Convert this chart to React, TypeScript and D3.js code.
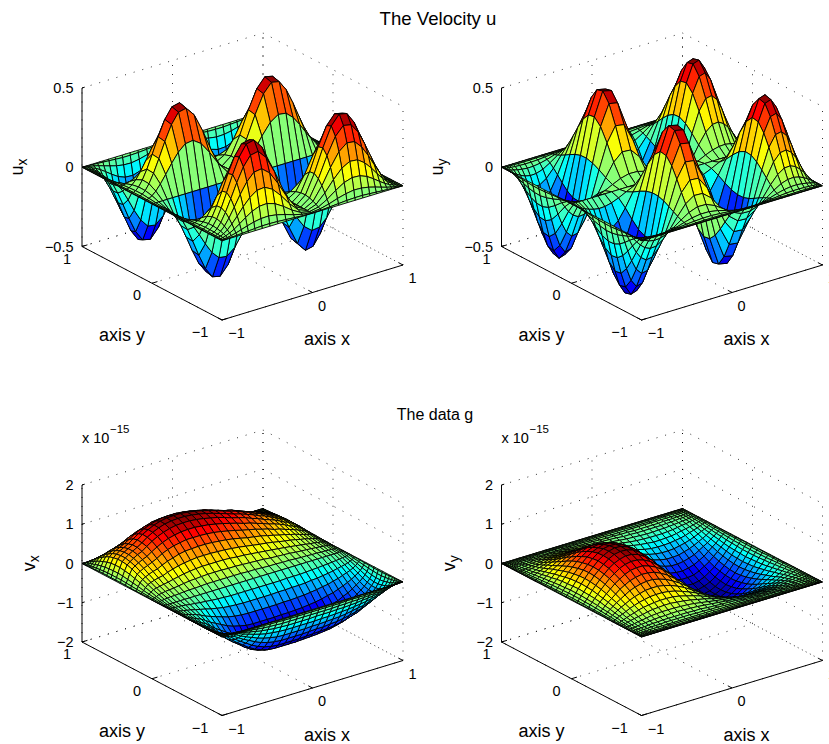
import React from 'react';
import * as d3 from 'd3';

// mesh nodes (non uniform, same along x and y). the velocity plots use a coarser mesh
const velocityNodes = [-1, -0.995, -0.981, -0.957, -0.924, -0.882, -0.832, -0.773, -0.707, -0.634, -0.556, -0.471, -0.383, -0.29, -0.195, -0.098, 0, 0.098, 0.195, 0.29, 0.383, 0.471, 0.556, 0.634, 0.707, 0.773, 0.832, 0.882, 0.924, 0.957, 0.981, 0.995, 1];
const dataNodes = [-1, -0.997, -0.988, -0.972, -0.951, -0.924, -0.891, -0.853, -0.809, -0.76, -0.707, -0.649, -0.588, -0.522, -0.454, -0.383, -0.309, -0.233, -0.156, -0.078, 0, 0.078, 0.156, 0.233, 0.309, 0.383, 0.454, 0.522, 0.588, 0.649, 0.707, 0.76, 0.809, 0.853, 0.891, 0.924, 0.951, 0.972, 0.988, 0.997, 1];

const edgeRow = [0, 0, 0, 0, 0, 0, 0, 0, 0, 0, 0, 0, 0, 0, 0, 0, 0, 0, 0, 0, 0, 0, 0, 0, 0, 0, 0, 0, 0, 0, 0, 0, 0];
const dataEdgeRow = [0, 0, 0, 0, 0, 0, 0, 0, 0, 0, 0, 0, 0, 0, 0, 0, 0, 0, 0, 0, 0, 0, 0, 0, 0, 0, 0, 0, 0, 0, 0, 0, 0, 0, 0, 0, 0, 0, 0, 0, 0];

// u_x, thousandths. rows go y = -1..1, columns x = -1..1
const uxGrid = [
  edgeRow,
  [0,0,0,0,1,2,4,6,9,12,15,15,13,9,5,1,0,1,5,9,13,15,15,12,9,6,4,2,1,0,0,0,0],
  [0,0,0,1,3,8,15,26,38,50,58,60,52,38,20,6,0,6,20,38,52,60,58,50,38,26,15,8,3,1,0,0,0],
  [0,0,0,2,8,18,34,57,85,112,130,133,117,84,44,12,0,12,44,84,117,133,130,112,85,57,34,18,8,2,0,0,0],
  [0,0,1,4,13,30,59,98,146,191,223,228,200,144,76,21,0,21,76,144,200,228,223,191,146,98,59,30,13,4,1,0,0],
  [0,0,1,6,19,44,86,145,214,281,328,335,294,211,112,31,0,31,112,211,294,335,328,281,214,145,86,44,19,6,1,0,0],
  [0,0,2,8,24,57,111,187,276,363,423,433,379,273,144,40,0,40,144,273,379,433,423,363,276,187,111,57,24,8,2,0,0],
  [0,0,2,9,28,65,126,212,313,412,480,491,431,309,164,46,0,46,164,309,431,491,480,412,313,212,126,65,28,9,2,0,0],
  [0,0,2,9,27,63,123,206,305,401,467,478,419,301,160,44,0,44,160,301,419,478,467,401,305,206,123,63,27,9,2,0,0],
  [0,0,1,7,21,49,95,160,237,311,363,371,325,234,124,34,0,34,124,234,325,371,363,311,237,160,95,49,21,7,1,0,0],
  [0,0,1,3,10,22,44,73,108,142,166,170,149,107,57,16,0,16,57,107,149,170,166,142,108,73,44,22,10,3,1,0,0],
  [0,0,0,-2,-5,-12,-23,-38,-56,-74,-86,-88,-77,-56,-29,-8,0,-8,-29,-56,-77,-88,-86,-74,-56,-38,-23,-12,-5,-2,0,0,0],
  [0,0,-1,-6,-19,-44,-86,-144,-213,-280,-326,-333,-292,-210,-111,-31,0,-31,-111,-210,-292,-333,-326,-280,-213,-144,-86,-44,-19,-6,-1,0,0],
  [0,0,-2,-9,-27,-64,-123,-207,-306,-403,-469,-480,-421,-303,-160,-45,0,-45,-160,-303,-421,-480,-469,-403,-306,-207,-123,-64,-27,-9,-2,0,0],
  [0,0,-2,-9,-26,-62,-120,-202,-298,-392,-457,-467,-410,-294,-156,-43,0,-43,-156,-294,-410,-467,-457,-392,-298,-202,-120,-62,-26,-9,-2,0,0],
  [0,0,-1,-5,-16,-38,-74,-124,-183,-240,-280,-287,-252,-181,-96,-27,0,-27,-96,-181,-252,-287,-280,-240,-183,-124,-74,-38,-16,-5,-1,0,0],
  edgeRow,
  [0,0,1,5,16,38,74,124,183,240,280,287,252,181,96,27,0,27,96,181,252,287,280,240,183,124,74,38,16,5,1,0,0],
  [0,0,2,9,26,62,120,202,298,392,457,467,410,294,156,43,0,43,156,294,410,467,457,392,298,202,120,62,26,9,2,0,0],
  [0,0,2,9,27,64,123,207,306,403,469,480,421,303,160,45,0,45,160,303,421,480,469,403,306,207,123,64,27,9,2,0,0],
  [0,0,1,6,19,44,86,144,213,280,326,333,292,210,111,31,0,31,111,210,292,333,326,280,213,144,86,44,19,6,1,0,0],
  [0,0,0,2,5,12,23,38,56,74,86,88,77,56,29,8,0,8,29,56,77,88,86,74,56,38,23,12,5,2,0,0,0],
  [0,0,-1,-3,-10,-22,-44,-73,-108,-142,-166,-170,-149,-107,-57,-16,0,-16,-57,-107,-149,-170,-166,-142,-108,-73,-44,-22,-10,-3,-1,0,0],
  [0,0,-1,-7,-21,-49,-95,-160,-237,-311,-363,-371,-325,-234,-124,-34,0,-34,-124,-234,-325,-371,-363,-311,-237,-160,-95,-49,-21,-7,-1,0,0],
  [0,0,-2,-9,-27,-63,-123,-206,-305,-401,-467,-478,-419,-301,-160,-44,0,-44,-160,-301,-419,-478,-467,-401,-305,-206,-123,-63,-27,-9,-2,0,0],
  [0,0,-2,-9,-28,-65,-126,-212,-313,-412,-480,-491,-431,-309,-164,-46,0,-46,-164,-309,-431,-491,-480,-412,-313,-212,-126,-65,-28,-9,-2,0,0],
  [0,0,-2,-8,-24,-57,-111,-187,-276,-363,-423,-433,-379,-273,-144,-40,0,-40,-144,-273,-379,-433,-423,-363,-276,-187,-111,-57,-24,-8,-2,0,0],
  [0,0,-1,-6,-19,-44,-86,-145,-214,-281,-328,-335,-294,-211,-112,-31,0,-31,-112,-211,-294,-335,-328,-281,-214,-145,-86,-44,-19,-6,-1,0,0],
  [0,0,-1,-4,-13,-30,-59,-98,-146,-191,-223,-228,-200,-144,-76,-21,0,-21,-76,-144,-200,-228,-223,-191,-146,-98,-59,-30,-13,-4,-1,0,0],
  [0,0,0,-2,-8,-18,-34,-57,-85,-112,-130,-133,-117,-84,-44,-12,0,-12,-44,-84,-117,-133,-130,-112,-85,-57,-34,-18,-8,-2,0,0,0],
  [0,0,0,-1,-3,-8,-15,-26,-38,-50,-58,-60,-52,-38,-20,-6,0,-6,-20,-38,-52,-60,-58,-50,-38,-26,-15,-8,-3,-1,0,0,0],
  [0,0,0,0,-1,-2,-4,-6,-9,-12,-15,-15,-13,-9,-5,-1,0,-1,-5,-9,-13,-15,-15,-12,-9,-6,-4,-2,-1,0,0,0,0],
  edgeRow,
];

// u_y, thousandths
const uyGrid = [
  edgeRow,
  edgeRow,
  [0,0,0,0,-1,-1,-2,-2,-2,-1,-1,0,1,2,2,1,0,-1,-2,-2,-1,0,1,1,2,2,2,1,1,0,0,0,0],
  [0,0,-1,-2,-4,-6,-8,-9,-9,-7,-3,2,6,9,9,5,0,-5,-9,-9,-6,-2,3,7,9,9,8,6,4,2,1,0,0],
  [0,-1,-3,-8,-13,-19,-24,-28,-27,-21,-10,5,19,27,26,16,0,-16,-26,-27,-19,-5,10,21,27,28,24,19,13,8,3,1,0],
  [0,-2,-8,-18,-30,-44,-57,-65,-63,-49,-22,12,44,64,62,38,0,-38,-62,-64,-44,-12,22,49,63,65,57,44,30,18,8,2,0],
  [0,-4,-15,-34,-59,-86,-111,-126,-123,-95,-44,23,86,123,120,74,0,-74,-120,-123,-86,-23,44,95,123,126,111,86,59,34,15,4,0],
  [0,-6,-26,-57,-98,-145,-187,-212,-206,-160,-73,38,144,207,202,124,0,-124,-202,-207,-144,-38,73,160,206,212,187,145,98,57,26,6,0],
  [0,-9,-38,-85,-146,-214,-276,-313,-305,-237,-108,56,213,306,298,183,0,-183,-298,-306,-213,-56,108,237,305,313,276,214,146,85,38,9,0],
  [0,-12,-50,-112,-191,-281,-363,-412,-401,-311,-142,74,280,403,392,240,0,-240,-392,-403,-280,-74,142,311,401,412,363,281,191,112,50,12,0],
  [0,-15,-58,-130,-223,-328,-423,-480,-467,-363,-166,86,326,469,457,280,0,-280,-457,-469,-326,-86,166,363,467,480,423,328,223,130,58,15,0],
  [0,-15,-60,-133,-228,-335,-433,-491,-478,-371,-170,88,333,480,467,287,0,-287,-467,-480,-333,-88,170,371,478,491,433,335,228,133,60,15,0],
  [0,-13,-52,-117,-200,-294,-379,-431,-419,-325,-149,77,292,421,410,252,0,-252,-410,-421,-292,-77,149,325,419,431,379,294,200,117,52,13,0],
  [0,-9,-38,-84,-144,-211,-273,-309,-301,-234,-107,56,210,303,294,181,0,-181,-294,-303,-210,-56,107,234,301,309,273,211,144,84,38,9,0],
  [0,-5,-20,-44,-76,-112,-144,-164,-160,-124,-57,29,111,160,156,96,0,-96,-156,-160,-111,-29,57,124,160,164,144,112,76,44,20,5,0],
  [0,-1,-6,-12,-21,-31,-40,-46,-44,-34,-16,8,31,45,43,27,0,-27,-43,-45,-31,-8,16,34,44,46,40,31,21,12,6,1,0],
  edgeRow,
  [0,-1,-6,-12,-21,-31,-40,-46,-44,-34,-16,8,31,45,43,27,0,-27,-43,-45,-31,-8,16,34,44,46,40,31,21,12,6,1,0],
  [0,-5,-20,-44,-76,-112,-144,-164,-160,-124,-57,29,111,160,156,96,0,-96,-156,-160,-111,-29,57,124,160,164,144,112,76,44,20,5,0],
  [0,-9,-38,-84,-144,-211,-273,-309,-301,-234,-107,56,210,303,294,181,0,-181,-294,-303,-210,-56,107,234,301,309,273,211,144,84,38,9,0],
  [0,-13,-52,-117,-200,-294,-379,-431,-419,-325,-149,77,292,421,410,252,0,-252,-410,-421,-292,-77,149,325,419,431,379,294,200,117,52,13,0],
  [0,-15,-60,-133,-228,-335,-433,-491,-478,-371,-170,88,333,480,467,287,0,-287,-467,-480,-333,-88,170,371,478,491,433,335,228,133,60,15,0],
  [0,-15,-58,-130,-223,-328,-423,-480,-467,-363,-166,86,326,469,457,280,0,-280,-457,-469,-326,-86,166,363,467,480,423,328,223,130,58,15,0],
  [0,-12,-50,-112,-191,-281,-363,-412,-401,-311,-142,74,280,403,392,240,0,-240,-392,-403,-280,-74,142,311,401,412,363,281,191,112,50,12,0],
  [0,-9,-38,-85,-146,-214,-276,-313,-305,-237,-108,56,213,306,298,183,0,-183,-298,-306,-213,-56,108,237,305,313,276,214,146,85,38,9,0],
  [0,-6,-26,-57,-98,-145,-187,-212,-206,-160,-73,38,144,207,202,124,0,-124,-202,-207,-144,-38,73,160,206,212,187,145,98,57,26,6,0],
  [0,-4,-15,-34,-59,-86,-111,-126,-123,-95,-44,23,86,123,120,74,0,-74,-120,-123,-86,-23,44,95,123,126,111,86,59,34,15,4,0],
  [0,-2,-8,-18,-30,-44,-57,-65,-63,-49,-22,12,44,64,62,38,0,-38,-62,-64,-44,-12,22,49,63,65,57,44,30,18,8,2,0],
  [0,-1,-3,-8,-13,-19,-24,-28,-27,-21,-10,5,19,27,26,16,0,-16,-26,-27,-19,-5,10,21,27,28,24,19,13,8,3,1,0],
  [0,0,-1,-2,-4,-6,-8,-9,-9,-7,-3,2,6,9,9,5,0,-5,-9,-9,-6,-2,3,7,9,9,8,6,4,2,1,0,0],
  [0,0,0,0,-1,-1,-2,-2,-2,-1,-1,0,1,2,2,1,0,-1,-2,-2,-1,0,1,1,2,2,2,1,1,0,0,0,0],
  edgeRow,
  edgeRow,
];

// v_x, hundredths of 1e-15
const vxGrid = [
  dataEdgeRow,
  [0,0,0,0,0,0,0,0,0,-1,-1,-1,-1,-1,-1,-2,-2,-2,-2,-2,-2,-2,-2,-2,-2,-2,-2,-1,-1,-1,-1,-1,-1,-1,-1,-1,0,0,0,0,0],
  [0,0,0,0,-1,-1,-1,-1,-2,-3,-3,-4,-5,-5,-6,-6,-7,-7,-7,-7,-7,-7,-7,-7,-7,-6,-6,-6,-6,-5,-5,-4,-4,-3,-3,-2,-2,-1,-1,0,0],
  [0,0,0,-1,-1,-2,-3,-3,-4,-6,-8,-9,-11,-13,-14,-15,-16,-16,-16,-16,-16,-16,-16,-16,-15,-15,-14,-14,-13,-12,-11,-10,-9,-8,-6,-5,-4,-3,-2,0,0],
  [0,0,-1,-1,-2,-3,-4,-6,-7,-10,-13,-16,-19,-22,-24,-26,-27,-28,-28,-28,-28,-27,-27,-27,-26,-26,-25,-24,-22,-21,-19,-17,-15,-13,-11,-9,-7,-5,-3,-1,0],
  [0,0,-1,-2,-3,-5,-7,-9,-11,-15,-20,-24,-29,-33,-37,-39,-41,-42,-42,-42,-42,-42,-41,-41,-40,-39,-38,-36,-34,-32,-29,-26,-23,-20,-17,-14,-11,-8,-4,-1,0],
  [0,0,-1,-3,-5,-7,-9,-13,-16,-21,-28,-34,-40,-46,-51,-55,-58,-59,-59,-59,-59,-58,-58,-57,-56,-55,-53,-50,-47,-45,-40,-37,-32,-28,-24,-19,-15,-10,-6,-2,0],
  [0,0,-1,-3,-6,-9,-12,-16,-20,-28,-36,-44,-51,-59,-66,-71,-74,-76,-76,-76,-76,-75,-74,-74,-72,-71,-68,-65,-61,-57,-52,-47,-41,-36,-30,-25,-20,-14,-7,-2,0],
  [0,0,-2,-4,-7,-11,-15,-20,-25,-34,-44,-53,-62,-72,-80,-86,-90,-92,-92,-92,-92,-91,-90,-89,-88,-86,-83,-79,-74,-70,-63,-57,-50,-43,-37,-30,-24,-16,-9,-2,0],
  [0,0,-2,-5,-8,-12,-17,-22,-28,-38,-50,-61,-71,-82,-91,-98,-103,-105,-105,-105,-105,-104,-103,-102,-100,-98,-94,-90,-84,-79,-72,-65,-57,-49,-42,-35,-27,-19,-10,-3,0],
  [0,0,-2,-5,-9,-13,-18,-24,-30,-41,-54,-65,-75,-87,-97,-104,-109,-111,-111,-111,-111,-110,-109,-108,-106,-104,-100,-95,-89,-84,-76,-70,-61,-53,-45,-37,-29,-20,-11,-3,0],
  [0,0,-2,-5,-9,-13,-18,-24,-30,-41,-54,-65,-75,-87,-97,-104,-109,-111,-111,-111,-111,-110,-109,-108,-106,-104,-100,-95,-89,-84,-76,-70,-61,-53,-45,-37,-29,-20,-11,-3,0],
  [0,0,-2,-5,-8,-12,-17,-22,-28,-38,-50,-60,-70,-81,-91,-97,-102,-104,-104,-104,-104,-103,-102,-101,-99,-97,-93,-89,-83,-79,-71,-65,-56,-49,-42,-34,-27,-19,-10,-3,0],
  [0,0,-2,-4,-7,-10,-14,-19,-24,-33,-43,-52,-61,-70,-78,-84,-88,-89,-89,-89,-89,-88,-88,-87,-85,-84,-80,-76,-72,-68,-61,-56,-49,-42,-36,-29,-23,-16,-9,-2,0],
  [0,0,-1,-3,-6,-8,-11,-15,-19,-26,-34,-41,-48,-56,-62,-66,-70,-71,-71,-71,-71,-70,-70,-69,-68,-66,-64,-61,-57,-54,-49,-44,-39,-34,-28,-23,-18,-13,-7,-2,0],
  [0,0,-1,-2,-4,-6,-8,-11,-14,-19,-25,-30,-35,-40,-45,-48,-50,-51,-51,-51,-51,-51,-50,-50,-49,-48,-46,-44,-41,-39,-35,-32,-28,-24,-21,-17,-13,-9,-5,-1,0],
  [0,0,-1,-1,-3,-4,-5,-7,-9,-12,-15,-18,-22,-25,-28,-30,-31,-32,-32,-32,-32,-32,-31,-31,-30,-30,-29,-27,-26,-24,-22,-20,-17,-15,-13,-11,-8,-6,-3,-1,0],
  [0,0,0,-1,-1,-2,-2,-3,-4,-6,-7,-9,-10,-12,-13,-14,-15,-15,-15,-15,-15,-15,-15,-15,-14,-14,-14,-13,-12,-11,-10,-9,-8,-7,-6,-5,-4,-3,-1,0,0],
  dataEdgeRow,
  [0,0,1,2,3,4,5,6,6,7,8,9,9,10,11,11,11,11,11,11,10,10,9,8,8,7,7,6,5,5,4,4,3,3,2,2,1,1,1,0,0],
  [0,0,2,4,6,9,10,12,13,14,16,18,20,21,22,23,23,23,22,22,21,20,19,18,16,15,14,13,11,10,9,8,7,6,5,4,3,2,1,0,0],
  [0,1,3,6,10,14,16,18,20,22,25,28,31,33,35,36,36,36,36,35,33,32,30,28,26,24,22,20,18,16,14,12,10,9,7,6,4,3,2,1,0],
  [0,1,4,8,14,20,23,26,29,31,36,40,44,47,49,51,51,51,50,49,47,45,42,39,36,34,31,28,25,23,20,17,15,12,10,8,6,4,3,1,0],
  [0,1,5,11,19,26,30,34,38,41,47,53,57,62,65,66,67,67,66,64,62,59,55,51,48,45,41,37,33,30,26,23,19,16,13,11,8,5,4,1,0],
  [0,1,6,13,23,32,37,42,46,51,57,65,71,76,79,82,82,82,81,79,76,72,68,63,59,55,50,46,40,37,32,28,24,20,16,13,10,7,4,1,0],
  [0,2,7,15,27,38,44,49,54,59,67,75,82,88,92,95,96,96,94,92,88,84,79,74,68,64,58,53,47,43,38,33,27,23,19,15,11,8,5,2,0],
  [0,2,8,17,29,42,48,54,60,65,74,83,91,97,102,105,106,106,104,101,97,93,87,81,76,71,64,59,52,47,42,36,30,26,21,17,12,9,6,2,0],
  [0,2,8,18,31,44,51,57,63,69,77,87,95,102,107,110,111,111,109,106,102,97,91,85,79,74,68,62,55,50,44,38,32,27,22,18,13,9,6,2,0],
  [0,2,8,18,31,44,51,57,63,69,78,88,96,103,108,111,112,112,110,107,103,98,92,86,80,75,68,62,55,50,44,38,32,27,22,18,13,9,6,2,0],
  [0,2,8,17,30,42,49,55,60,66,75,84,92,98,103,106,107,107,105,102,98,94,88,82,76,72,65,59,53,48,42,36,31,26,21,17,12,9,6,2,0],
  [0,2,7,16,27,39,45,50,55,61,68,77,84,90,95,97,98,98,96,94,90,86,81,75,70,66,60,54,48,44,39,33,28,24,19,16,11,8,5,2,0],
  [0,2,6,14,24,34,39,44,49,53,60,68,74,79,83,86,86,86,85,82,79,76,71,66,62,58,52,48,42,39,34,29,25,21,17,14,10,7,5,2,0],
  [0,1,5,12,20,28,33,37,41,45,50,57,62,67,70,72,72,72,71,69,67,63,60,56,52,48,44,40,36,32,28,25,21,17,14,12,8,6,4,1,0],
  [0,1,4,9,16,23,26,29,33,36,40,45,50,53,56,57,58,58,57,55,53,51,48,44,41,39,35,32,28,26,23,20,17,14,11,9,7,5,3,1,0],
  [0,1,3,7,12,17,20,22,25,27,31,35,38,40,42,44,44,44,43,42,40,38,36,34,31,29,27,24,22,20,17,15,13,11,9,7,5,4,2,1,0],
  [0,1,2,5,9,12,14,16,17,19,22,24,26,28,30,31,31,31,30,30,28,27,25,24,22,21,19,17,15,14,12,10,9,7,6,5,4,2,2,1,0],
  [0,0,1,3,6,8,9,10,11,12,14,16,17,19,20,20,20,20,20,19,19,18,17,16,14,14,12,11,10,9,8,7,6,5,4,3,2,2,1,0,0],
  [0,0,1,2,3,5,5,6,7,7,8,9,10,11,11,12,12,12,11,11,11,10,10,9,8,8,7,6,6,5,5,4,3,3,2,2,1,1,1,0,0],
  [0,0,0,1,1,2,2,3,3,3,4,4,4,5,5,5,5,5,5,5,5,4,4,4,4,3,3,3,3,2,2,2,1,1,1,1,1,0,0,0,0],
  [0,0,0,0,0,0,1,1,1,1,1,1,1,1,1,1,1,1,1,1,1,1,1,1,1,1,1,1,1,1,0,0,0,0,0,0,0,0,0,0,0],
  dataEdgeRow,
];

// v_y, hundredths of 1e-15
const vyGrid = [
  dataEdgeRow,
  dataEdgeRow,
  dataEdgeRow,
  dataEdgeRow,
  [0,0,0,0,0,0,0,0,0,0,0,1,1,1,1,1,0,0,0,0,0,0,0,0,0,-1,-1,-1,-1,-1,0,0,0,0,0,0,0,0,0,0,0],
  [0,0,0,0,0,0,0,1,1,1,1,1,1,1,1,1,1,1,1,0,0,0,-1,-1,-1,-1,-1,-1,-1,-1,-1,-1,-1,-1,0,0,0,0,0,0,0],
  [0,0,0,0,0,1,1,1,2,2,2,3,3,3,3,3,2,2,1,1,0,-1,-1,-2,-2,-3,-3,-3,-3,-3,-2,-2,-2,-1,-1,-1,0,0,0,0,0],
  [0,0,0,0,1,1,2,2,3,4,4,5,5,5,5,5,4,4,2,1,0,-1,-2,-4,-4,-5,-5,-5,-5,-5,-4,-4,-3,-2,-2,-1,-1,0,0,0,0],
  [0,0,0,1,1,2,3,4,5,6,7,8,8,9,9,8,7,6,4,2,0,-2,-4,-6,-7,-8,-9,-9,-8,-8,-7,-6,-5,-4,-3,-2,-1,-1,0,0,0],
  [0,0,1,1,2,3,4,6,7,9,11,12,13,13,13,12,11,9,6,3,0,-3,-6,-9,-11,-12,-13,-13,-13,-12,-11,-9,-7,-6,-4,-3,-2,-1,-1,0,0],
  [0,0,1,2,3,5,7,9,11,13,16,18,19,20,20,18,16,13,9,5,0,-5,-9,-13,-16,-18,-20,-20,-19,-18,-16,-13,-11,-9,-7,-5,-3,-2,-1,0,0],
  [0,0,1,2,4,6,9,12,15,19,22,24,26,27,27,26,23,18,13,7,0,-7,-13,-18,-23,-26,-27,-27,-26,-24,-22,-19,-15,-12,-9,-6,-4,-2,-1,0,0],
  [0,0,1,3,6,9,12,16,21,25,29,32,35,36,36,34,30,24,17,9,0,-9,-17,-24,-30,-34,-36,-36,-35,-32,-29,-25,-21,-16,-12,-9,-6,-3,-1,0,0],
  [0,0,2,4,7,11,16,21,26,32,37,41,45,46,46,43,38,31,22,11,0,-11,-22,-31,-38,-43,-46,-46,-45,-41,-37,-32,-26,-21,-16,-11,-7,-4,-2,0,0],
  [0,1,2,5,9,14,19,26,32,39,46,51,55,57,57,53,47,38,27,14,0,-14,-27,-38,-47,-53,-57,-57,-55,-51,-46,-39,-32,-26,-19,-14,-9,-5,-2,-1,0],
  [0,1,3,6,10,16,23,30,38,47,54,61,65,68,67,64,56,46,32,17,0,-17,-32,-46,-56,-64,-67,-68,-65,-61,-54,-47,-38,-30,-23,-16,-10,-6,-3,-1,0],
  [0,1,3,7,12,19,26,35,44,54,62,70,76,78,78,73,65,53,37,19,0,-19,-37,-53,-65,-73,-78,-78,-76,-70,-62,-54,-44,-35,-26,-19,-12,-7,-3,-1,0],
  [0,1,3,8,13,21,29,39,49,60,69,78,84,87,86,81,72,58,41,21,0,-21,-41,-58,-72,-81,-86,-87,-84,-78,-69,-60,-49,-39,-29,-21,-13,-8,-3,-1,0],
  [0,1,4,8,14,22,32,42,53,64,75,84,90,94,93,88,77,63,44,23,0,-23,-44,-63,-77,-88,-93,-94,-90,-84,-75,-64,-53,-42,-32,-22,-14,-8,-4,-1,0],
  [0,1,4,9,15,23,33,44,56,67,78,88,95,98,97,92,81,66,46,24,0,-24,-46,-66,-81,-92,-97,-98,-95,-88,-78,-67,-56,-44,-33,-23,-15,-9,-4,-1,0],
  [0,1,4,9,15,24,34,45,57,68,80,89,96,100,99,93,83,67,47,24,0,-24,-47,-67,-83,-93,-99,-100,-96,-89,-80,-68,-57,-45,-34,-24,-15,-9,-4,-1,0],
  [0,1,4,9,15,23,33,44,56,67,78,88,95,98,97,92,81,66,46,24,0,-24,-46,-66,-81,-92,-97,-98,-95,-88,-78,-67,-56,-44,-33,-23,-15,-9,-4,-1,0],
  [0,1,4,8,14,22,32,42,53,64,75,84,90,94,93,88,77,63,44,23,0,-23,-44,-63,-77,-88,-93,-94,-90,-84,-75,-64,-53,-42,-32,-22,-14,-8,-4,-1,0],
  [0,1,3,8,13,21,29,39,49,60,69,78,84,87,86,81,72,58,41,21,0,-21,-41,-58,-72,-81,-86,-87,-84,-78,-69,-60,-49,-39,-29,-21,-13,-8,-3,-1,0],
  [0,1,3,7,12,19,26,35,44,54,62,70,76,78,78,73,65,53,37,19,0,-19,-37,-53,-65,-73,-78,-78,-76,-70,-62,-54,-44,-35,-26,-19,-12,-7,-3,-1,0],
  [0,1,3,6,10,16,23,30,38,47,54,61,65,68,67,64,56,46,32,17,0,-17,-32,-46,-56,-64,-67,-68,-65,-61,-54,-47,-38,-30,-23,-16,-10,-6,-3,-1,0],
  [0,1,2,5,9,14,19,26,32,39,46,51,55,57,57,53,47,38,27,14,0,-14,-27,-38,-47,-53,-57,-57,-55,-51,-46,-39,-32,-26,-19,-14,-9,-5,-2,-1,0],
  [0,0,2,4,7,11,16,21,26,32,37,41,45,46,46,43,38,31,22,11,0,-11,-22,-31,-38,-43,-46,-46,-45,-41,-37,-32,-26,-21,-16,-11,-7,-4,-2,0,0],
  [0,0,1,3,6,9,12,16,21,25,29,32,35,36,36,34,30,24,17,9,0,-9,-17,-24,-30,-34,-36,-36,-35,-32,-29,-25,-21,-16,-12,-9,-6,-3,-1,0,0],
  [0,0,1,2,4,6,9,12,15,19,22,24,26,27,27,26,23,18,13,7,0,-7,-13,-18,-23,-26,-27,-27,-26,-24,-22,-19,-15,-12,-9,-6,-4,-2,-1,0,0],
  [0,0,1,2,3,5,7,9,11,13,16,18,19,20,20,18,16,13,9,5,0,-5,-9,-13,-16,-18,-20,-20,-19,-18,-16,-13,-11,-9,-7,-5,-3,-2,-1,0,0],
  [0,0,1,1,2,3,4,6,7,9,11,12,13,13,13,12,11,9,6,3,0,-3,-6,-9,-11,-12,-13,-13,-13,-12,-11,-9,-7,-6,-4,-3,-2,-1,-1,0,0],
  [0,0,0,1,1,2,3,4,5,6,7,8,8,9,9,8,7,6,4,2,0,-2,-4,-6,-7,-8,-9,-9,-8,-8,-7,-6,-5,-4,-3,-2,-1,-1,0,0,0],
  [0,0,0,0,1,1,2,2,3,4,4,5,5,5,5,5,4,4,2,1,0,-1,-2,-4,-4,-5,-5,-5,-5,-5,-4,-4,-3,-2,-2,-1,-1,0,0,0,0],
  [0,0,0,0,0,1,1,1,2,2,2,3,3,3,3,3,2,2,1,1,0,-1,-1,-2,-2,-3,-3,-3,-3,-3,-2,-2,-2,-1,-1,-1,0,0,0,0,0],
  [0,0,0,0,0,0,0,1,1,1,1,1,1,1,1,1,1,1,1,0,0,0,-1,-1,-1,-1,-1,-1,-1,-1,-1,-1,-1,-1,0,0,0,0,0,0,0],
  [0,0,0,0,0,0,0,0,0,0,0,1,1,1,1,1,0,0,0,0,0,0,0,0,0,-1,-1,-1,-1,-1,0,0,0,0,0,0,0,0,0,0,0],
  dataEdgeRow,
  dataEdgeRow,
  dataEdgeRow,
  dataEdgeRow,
];

const xyTicks = [-1, 0, 1];
const velocityTicks = [-0.5, 0, 0.5];
const dataTicks = [-2, -1, 0, 1, 2];

const FONT = '"Liberation Sans", Arial, sans-serif';

// MATLAB's jet, 64 flat levels
const jetRamp = d3
  .scaleLinear<string>()
  .domain([0, 0.125, 0.375, 0.625, 0.875, 1])
  .range(['#000090', '#0000ff', '#00ffff', '#ffff00', '#ff0000', '#800000'])
  .interpolate(d3.interpolateRgb);
const jet = d3.range(64).map((i) => jetRamp(i / 63));

const fmt = (t: number) => String(t).replace('-', '\u2212');

const Panel = ({ grid, nodes, unit, ticks, height, ox, oy, name, sub, labelX, power }) => {
  // front corner of the floor
  const fx = 222 + ox;
  const fy = 320 + oy;
  const ux = d3.scaleLinear().domain([-1, 1]).range([0, 1]);
  const uy = d3.scaleLinear().domain([-1, 1]).range([0, 1]);
  const zScale = d3.scaleLinear().domain([ticks[0], ticks[ticks.length - 1]]).range([0, -height]);

  const project = (x: number, y: number, z: number): [number, number] => [
    fx + ux(x) * 181 - uy(y) * 140,
    fy - ux(x) * 55 - uy(y) * 73.5 + zScale(z),
  ];

  const line = d3.line();
  const [zMin, zMax] = [ticks[0], ticks[ticks.length - 1]];
  const [cMin, cMax] = d3.extent(grid.flat()) as [number, number];
  const color = d3.scaleQuantize<string>().domain([cMin, cMax]).range(jet);

  const gridLines: [number, number][][] = [];
  xyTicks.forEach((t) => {
    // floor
    gridLines.push([project(t, -1, zMin), project(t, 1, zMin)]);
    gridLines.push([project(-1, t, zMin), project(1, t, zMin)]);
    // back walls, verticals
    gridLines.push([project(t, 1, zMin), project(t, 1, zMax)]);
    gridLines.push([project(1, t, zMin), project(1, t, zMax)]);
  });
  ticks.forEach((t) => {
    gridLines.push([project(-1, 1, t), project(1, 1, t), project(1, -1, t)]);
  });

  // painter's order: far corner (x=1, y=1) first
  const facets = [];
  for (let i = nodes.length - 2; i >= 0; i--) {
    for (let j = nodes.length - 2; j >= 0; j--) {
      const pts = [
        project(nodes[j], nodes[i], grid[i][j] * unit),
        project(nodes[j + 1], nodes[i], grid[i][j + 1] * unit),
        project(nodes[j + 1], nodes[i + 1], grid[i + 1][j + 1] * unit),
        project(nodes[j], nodes[i + 1], grid[i + 1][j] * unit),
      ];
      facets.push(<path key={`${i}-${j}`} d={line(pts) + 'Z'} fill={color(grid[i][j])} />);
    }
  }

  const tickLen = 0.03;
  return (
    <g fontFamily={FONT} fill="#000">
      <g fill="none" stroke="#000" strokeWidth={0.8} strokeDasharray="1 8">
        {gridLines.map((l, i) => (
          <path key={i} d={line(l)} />
        ))}
      </g>
      <g stroke="#000" strokeWidth={0.9} strokeLinejoin="round">
        {facets}
      </g>
      <g fill="none" stroke="#000" strokeWidth={1}>
        <path d={line([project(-1, 1, zMin), project(-1, 1, zMax)])} />
        <path d={line([project(-1, -1, zMin), project(1, -1, zMin)])} />
        <path d={line([project(-1, -1, zMin), project(-1, 1, zMin)])} />
        {xyTicks.map((t) => (
          <path key={`xt${t}`} d={line([project(t, -1, zMin), project(t, -1 + tickLen * 2, zMin)])} />
        ))}
        {xyTicks.map((t) => (
          <path key={`yt${t}`} d={line([project(-1, t, zMin), project(-1 + tickLen * 2, t, zMin)])} />
        ))}
        {ticks.map((t) => (
          <path key={`zt${t}`} d={line([project(-1, 1, t), project(-1 + tickLen, 1, t)])} />
        ))}
      </g>
      <g fontSize={14.5} stroke="none">
        {xyTicks.map((t) => {
          const [px, py] = project(t, -1, zMin);
          return (
            <text key={`xl${t}`} x={px + (t < 0 ? 14.5 : 9.5)} y={py + 18} textAnchor="middle">
              {fmt(t)}
            </text>
          );
        })}
        {xyTicks.map((t) => {
          const [px, py] = project(-1, t, zMin);
          return (
            <text key={`yl${t}`} x={px + (t < 0 ? -22 : -15)} y={py + 17} textAnchor="middle">
              {fmt(t)}
            </text>
          );
        })}
        {ticks.map((t) => {
          const [px, py] = project(-1, 1, t);
          return (
            <text key={`zl${t}`} x={px - 8.5} y={py + 5} textAnchor="end">
              {fmt(t)}
            </text>
          );
        })}
      </g>
      <g fontSize={18} stroke="none" textAnchor="middle">
        <text x={122 + ox} y={341 + oy}>axis y</text>
        <text x={327 + ox} y={345 + oy}>axis x</text>
        <text transform={`translate(${labelX + ox},${167 + oy * 1.002}) rotate(-90)`}>
          {name}
          <tspan dy={4} fontSize={14}>{sub}</tspan>
        </text>
      </g>
      {power && (
        <text x={82 + ox} y={443} fontSize={14.5} stroke="none">
          x 10
          <tspan x={110 + ox} y={433} fontSize={11.5}>{'\u221215'}</tspan>
        </text>
      )}
    </g>
  );
};

const App = () => (
  <svg width={829} height={744} style={{ position: 'absolute', left: 0, top: 0, background: '#fff' }}>
    <g fontFamily={FONT} textAnchor="middle" fill="#000">
      <text x={438} y={25} fontSize={18.6}>The Velocity u</text>
      <text x={435} y={420} fontSize={16}>The data g</text>
    </g>
    <Panel grid={uxGrid} nodes={velocityNodes} unit={0.001} ticks={velocityTicks} height={158.5} ox={0} oy={0} name="u" sub="x" labelX={23} />
    <Panel grid={uyGrid} nodes={velocityNodes} unit={0.001} ticks={velocityTicks} height={158.5} ox={419.5} oy={0} name="u" sub="y" labelX={23} />
    <Panel grid={vxGrid} nodes={dataNodes} unit={0.01} ticks={dataTicks} height={157} ox={0} oy={395.5} name="v" sub="x" labelX={35} power />
    <Panel grid={vyGrid} nodes={dataNodes} unit={0.01} ticks={dataTicks} height={157} ox={419.5} oy={395.5} name="v" sub="y" labelX={35} power />
  </svg>
);

export default App;
